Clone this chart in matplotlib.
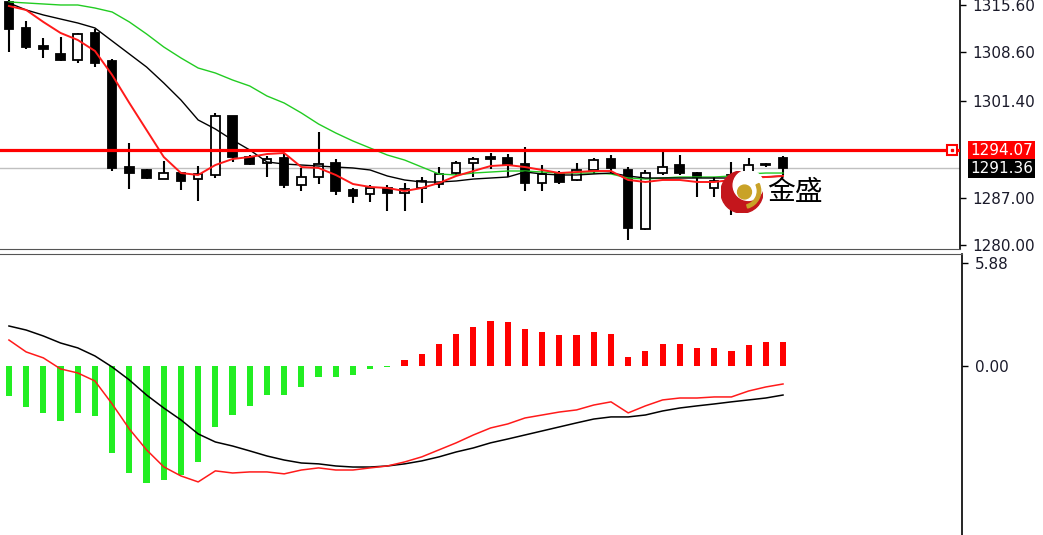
import matplotlib
matplotlib.use("Agg")
import matplotlib.pyplot as plt
from matplotlib.patches import Circle, Wedge
import numpy as np

# velas (apertura, maximo, minimo, cierre)
aperturas = [1316.0, 1312.2, 1309.5, 1308.4, 1307.4, 1311.5, 1307.3, 1291.6, 1291.1, 1289.8,
             1290.7, 1289.8, 1290.4, 1299.1, 1293.1, 1292.2, 1292.9, 1288.9, 1290.1, 1292.2,
             1288.2, 1287.6, 1288.5, 1287.7, 1288.5, 1289.0, 1290.7, 1292.2, 1292.9, 1292.9,
             1292.0, 1289.2, 1290.7, 1289.6, 1291.1, 1292.8, 1291.1, 1282.4, 1290.7, 1291.9,
             1290.7, 1288.5, 1289.0, 1290.7, 1291.9, 1292.9]
maximos = [1316.3, 1313.2, 1310.7, 1310.8, 1311.5, 1312.0, 1307.6, 1295.1, 1291.3, 1292.5,
           1290.8, 1291.7, 1299.6, 1299.2, 1293.3, 1293.2, 1293.6, 1291.4, 1296.8, 1292.8,
           1288.5, 1288.9, 1288.9, 1289.2, 1290.1, 1291.6, 1292.5, 1293.1, 1293.6, 1293.5,
           1294.5, 1291.9, 1291.0, 1292.2, 1292.9, 1293.3, 1291.6, 1291.1, 1293.8, 1293.3,
           1290.8, 1290.1, 1292.3, 1292.9, 1292.2, 1293.2]
minimos = [1308.6, 1309.1, 1307.7, 1307.3, 1307.0, 1306.4, 1291.0, 1288.3, 1289.8, 1289.8,
           1288.2, 1286.5, 1289.9, 1292.3, 1291.9, 1290.1, 1288.5, 1288.0, 1289.0, 1287.4,
           1286.2, 1286.4, 1285.0, 1285.0, 1286.2, 1288.5, 1290.4, 1290.1, 1291.3, 1290.1,
           1288.0, 1288.0, 1289.0, 1289.5, 1290.5, 1290.7, 1280.7, 1282.2, 1290.4, 1290.4,
           1287.1, 1287.1, 1284.4, 1289.8, 1291.6, 1290.4]
cierres = [1312.0, 1309.4, 1309.1, 1307.4, 1311.3, 1307.0, 1291.4, 1290.7, 1289.9, 1290.7,
           1289.5, 1290.5, 1299.1, 1293.1, 1292.0, 1292.8, 1288.9, 1290.1, 1292.0, 1288.0,
           1287.3, 1288.5, 1287.7, 1288.3, 1289.5, 1290.5, 1292.2, 1292.8, 1292.8, 1291.9,
           1289.2, 1290.5, 1289.3, 1291.1, 1292.6, 1291.4, 1282.5, 1290.7, 1291.6, 1290.7,
           1290.1, 1289.5, 1290.4, 1291.9, 1291.8, 1291.4]

# medias moviles
ma_roja = [1315.45, 1314.86, 1313.08, 1311.45, 1310.41, 1308.78, 1305.21, 1301.06, 1297.05, 1293.05,
           1290.67, 1290.38, 1291.86, 1292.75, 1293.05, 1293.49, 1293.64, 1291.56, 1291.42, 1290.38,
           1289.04, 1288.60, 1288.45, 1288.00, 1288.45, 1289.19, 1290.23, 1290.97, 1291.71, 1291.86,
           1291.56, 1291.12, 1290.67, 1290.82, 1290.97, 1290.97, 1289.64, 1289.34, 1289.64, 1289.64,
           1289.34, 1289.34, 1289.64, 1289.93, 1290.08, 1290.23]
ma_negra = [1315.90, 1314.86, 1314.12, 1313.52, 1312.93, 1312.19, 1310.26, 1308.33, 1306.40, 1304.03,
            1301.50, 1298.54, 1297.20, 1295.57, 1294.09, 1292.31, 1292.01, 1291.86, 1291.71, 1291.56,
            1291.42, 1291.12, 1290.23, 1289.64, 1289.34, 1289.34, 1289.49, 1289.78, 1289.93, 1290.08,
            1290.82, 1290.53, 1290.38, 1290.38, 1290.53, 1290.67, 1290.23, 1289.93, 1289.93, 1289.93,
            1289.93, 1289.93, 1289.93, 1290.08, 1290.08, 1290.23]
ma_verde = [1316.05, 1315.90, 1315.75, 1315.60, 1315.60, 1315.15, 1314.56, 1313.08, 1311.30, 1309.37,
            1307.74, 1306.25, 1305.51, 1304.47, 1303.58, 1302.10, 1301.06, 1299.58, 1297.94, 1296.61,
            1295.42, 1294.38, 1293.34, 1292.60, 1291.56, 1290.53, 1290.38, 1290.67, 1290.82, 1290.97,
            1290.97, 1290.82, 1290.67, 1290.67, 1290.67, 1290.53, 1289.93, 1289.78, 1289.93, 1290.08,
            1290.08, 1290.08, 1290.23, 1290.53, 1290.67, 1290.67]

# MACD
histograma = [-1.71, -2.34, -2.68, -3.14, -2.68, -2.85, -4.97, -6.11, -6.68, -6.51,
              -6.22, -5.48, -3.48, -2.80, -2.28, -1.66, -1.66, -1.20, -0.63, -0.63,
              -0.51, -0.17, -0.06, 0.34, 0.68, 1.26, 1.83, 2.23, 2.57, 2.51,
              2.11, 1.94, 1.77, 1.77, 1.94, 1.83, 0.51, 0.86, 1.26, 1.26,
              1.03, 1.03, 0.86, 1.20, 1.37, 1.37]
macd_negra = [2.28, 2.05, 1.71, 1.31, 1.03, 0.57, -0.06, -0.80, -1.66, -2.40,
              -3.08, -3.88, -4.34, -4.57, -4.85, -5.14, -5.37, -5.54, -5.59, -5.71,
              -5.77, -5.77, -5.71, -5.59, -5.42, -5.19, -4.91, -4.68, -4.39, -4.17,
              -3.94, -3.71, -3.48, -3.25, -3.03, -2.91, -2.91, -2.80, -2.57, -2.40,
              -2.28, -2.17, -2.05, -1.94, -1.83, -1.66]
macd_roja = [1.48, 0.80, 0.46, -0.17, -0.40, -0.86, -2.17, -3.60, -4.79, -5.76,
             -6.28, -6.62, -5.99, -6.11, -6.05, -6.05, -6.16, -5.94, -5.82, -5.94,
             -5.94, -5.82, -5.71, -5.48, -5.19, -4.79, -4.39, -3.94, -3.54, -3.31,
             -2.97, -2.80, -2.63, -2.51, -2.23, -2.05, -2.68, -2.28, -1.94, -1.83,
             -1.83, -1.77, -1.77, -1.43, -1.20, -1.03]

precios_eje = [1315.60, 1308.60, 1301.40, 1287.00, 1280.00]
nivel_rojo = 1294.07
precio_actual = 1291.36
macd_eje = [5.88, 0.00]

W, H = 1043, 535
fig = plt.figure(figsize=(W / 100, H / 100), dpi=100)
fig.patch.set_facecolor("white")

ax = fig.add_axes([0, (H - 249) / H, 960 / W, 249 / H])
ax2 = fig.add_axes([0, 0, 962 / W, (H - 254) / H])

x = np.arange(len(cierres))
xlim = (-0.52, 55.29)

# velas
for i in x:
    o, h, l, c = aperturas[i], maximos[i], minimos[i], cierres[i]
    ax.vlines(i, l, h, color="black", linewidth=1.5, zorder=3)
    alto = max(abs(c - o), 0.18)
    base = min(o, c)
    color = "black" if c < o else "white"
    ax.bar(i, alto, bottom=base, width=0.5, color=color, edgecolor="black",
           linewidth=1.3, zorder=4)

ax.plot(x, ma_verde, color="#22cc22", linewidth=1.0, zorder=5)
ax.plot(x, ma_negra, color="black", linewidth=1.0, zorder=5)
ax.plot(x, ma_roja, color="#ff1a1a", linewidth=1.4, zorder=5)

ax.axhline(precio_actual, color="#c0c0c0", linewidth=1.0, zorder=1)
ax.axhline(nivel_rojo, color="#ff0000", linewidth=2.3, zorder=6)
ax.plot([54.8], [nivel_rojo], marker="s", markersize=7, markerfacecolor="white",
        markeredgecolor="#ff0000", markeredgewidth=1.5, zorder=7, clip_on=False)
ax.plot([54.8], [nivel_rojo], marker="s", markersize=2, color="#ff0000", zorder=8, clip_on=False)

ax.set_xlim(*xlim)
ax.set_ylim(1279.40, 1316.34)
ax.set_xticks([])
ax.yaxis.tick_right()
ax.set_yticks(precios_eje)
ax.set_yticklabels([f"{p:.2f}" for p in precios_eje])
ax.tick_params(axis="y", direction="out", length=4, width=1, pad=5,
               labelsize=11, labelcolor="#1a1a2a")
for s in ["top", "left"]:
    ax.spines[s].set_visible(False)
ax.spines["right"].set_linewidth(1.2)
ax.spines["bottom"].set_color("#555555")

tr = ax.get_yaxis_transform()
ax.text(1.0105, nivel_rojo, f"{nivel_rojo:.2f}", transform=tr, color="white", fontsize=11,
        va="center", ha="left", clip_on=False,
        bbox=dict(boxstyle="square,pad=0.12", facecolor="#ff0000", edgecolor="none"))
ax.text(1.0105, precio_actual, f"{precio_actual:.2f}", transform=tr, color="white", fontsize=11,
        va="center", ha="left", clip_on=False,
        bbox=dict(boxstyle="square,pad=0.12", facecolor="black", edgecolor="none"))

# MACD
colores = ["#ff0000" if v > 0 else "#22ee22" for v in histograma]
ax2.bar(x, histograma, width=0.36, color=colores, zorder=2)
ax2.plot(x, macd_negra, color="black", linewidth=1.1, zorder=3)
ax2.plot(x, macd_roja, color="#ff1a1a", linewidth=1.1, zorder=3)
ax2.set_xlim(xlim[0], xlim[1] * 962 / 960)
ax2.set_ylim(-9.65, 6.39)
ax2.set_xticks([])
ax2.yaxis.tick_right()
ax2.set_yticks(macd_eje)
ax2.set_yticklabels([f"{v:.2f}" for v in macd_eje])
ax2.tick_params(axis="y", direction="out", length=4, width=1, pad=5,
                labelsize=11, labelcolor="#1a1a2a")
ax2.spines["left"].set_visible(False)
ax2.spines["bottom"].set_visible(False)
ax2.spines["right"].set_linewidth(1.2)
ax2.spines["top"].set_color("#555555")

# logo
lg = fig.add_axes([721 / W, (H - 213) / H, 42 / W, 42 / H])
lg.set_xlim(-1, 1)
lg.set_ylim(-1, 1)
lg.set_aspect("equal")
lg.axis("off")
lg.patch.set_alpha(0)
lg.add_patch(Circle((0, 0), 1.0, color="#c4161c"))
lg.add_patch(Circle((0.3, 0.32), 0.72, color="white"))
lg.add_patch(Wedge((0.05, 0.05), 0.84, -75, 25, width=0.16, color="#c9a227"))
lg.add_patch(Circle((0.12, 0.0), 0.33, color="#c9a227"))
fig.text(767 / W, 1 - 192 / H, "金盛", fontsize=20, va="center", ha="left",
         family=["Noto Sans CJK SC", "DejaVu Sans"], color="black")

fig.savefig("out.png", dpi=100, facecolor="white")
